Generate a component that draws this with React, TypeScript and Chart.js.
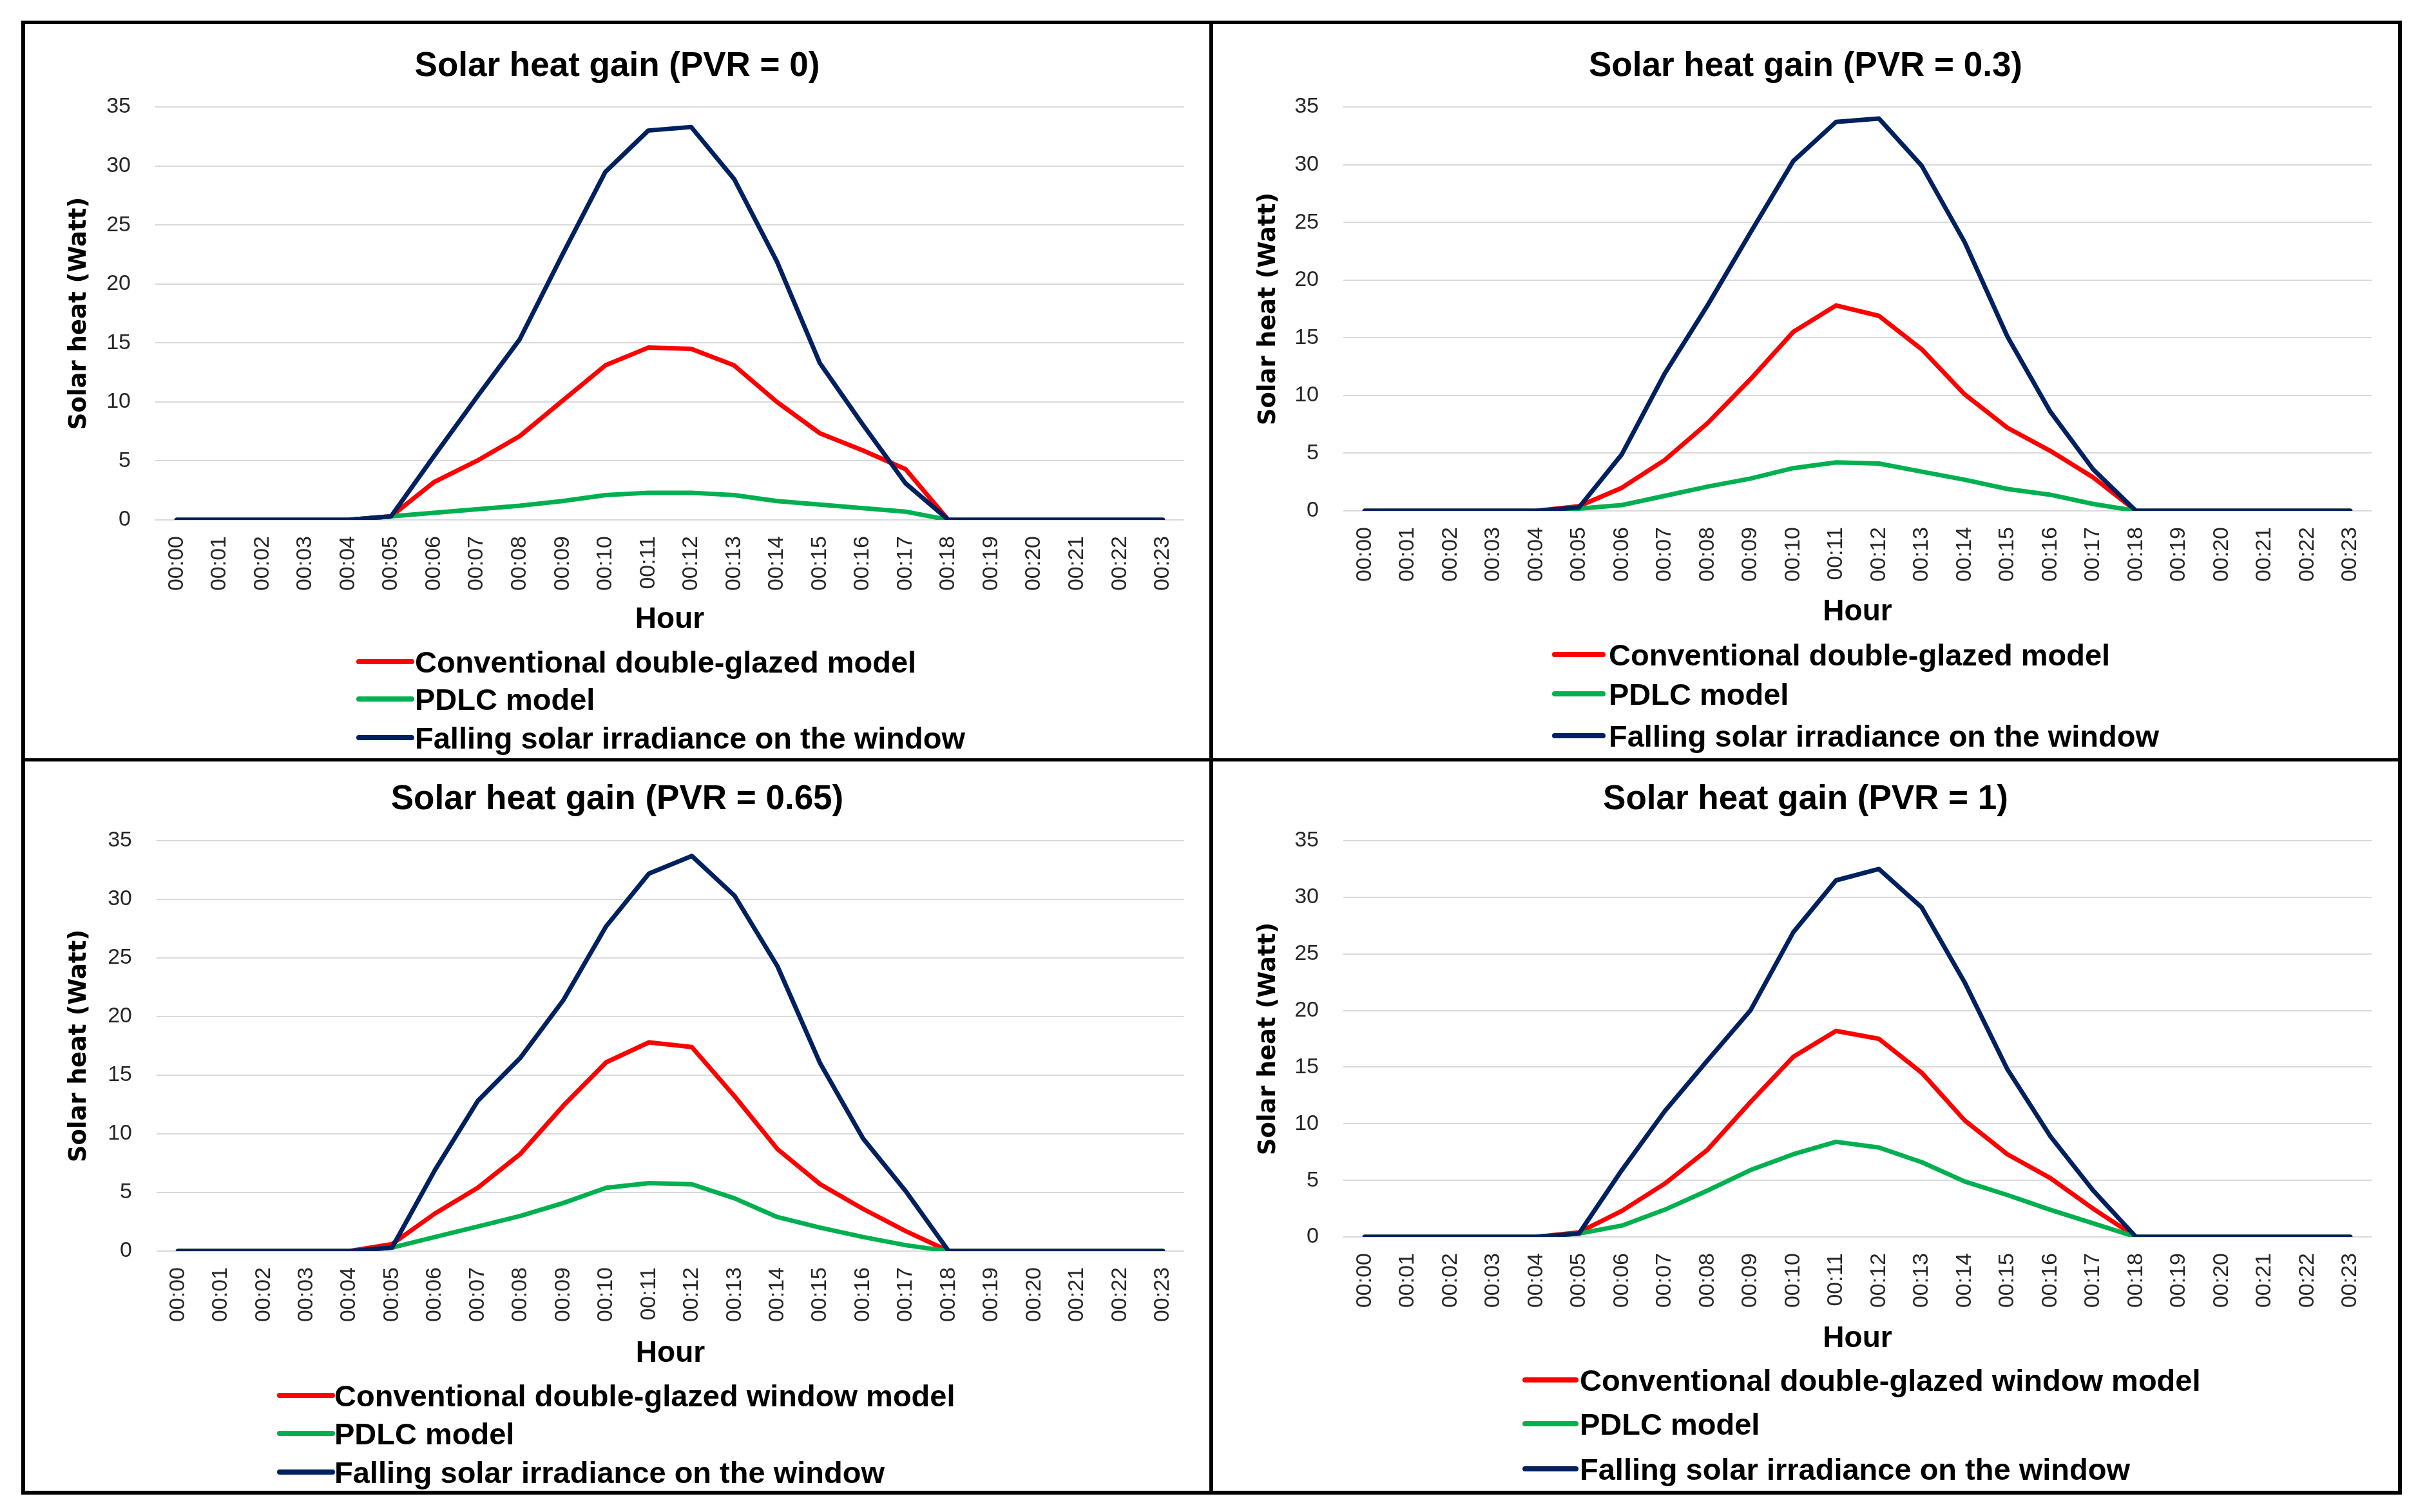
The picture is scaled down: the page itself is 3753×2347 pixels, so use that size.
import React, { useEffect, useRef } from 'react';
import { Chart, registerables } from 'chart.js';

Chart.register(...registerables);

// ---------- data ----------
const hours = [
  '00:00', '00:01', '00:02', '00:03', '00:04', '00:05', '00:06', '00:07',
  '00:08', '00:09', '00:10', '00:11', '00:12', '00:13', '00:14', '00:15',
  '00:16', '00:17', '00:18', '00:19', '00:20', '00:21', '00:22', '00:23',
];

const conv0 = [0, 0, 0, 0, 0, 0.3, 3.2, 5.0, 7.1, 10.1, 13.1, 14.6, 14.5, 13.1, 10.0, 7.35, 5.9, 4.3, 0, 0, 0, 0, 0, 0];
const pdlc0 = [0, 0, 0, 0, 0, 0.3, 0.6, 0.9, 1.2, 1.6, 2.1, 2.3, 2.3, 2.1, 1.6, 1.3, 1.0, 0.7, 0, 0, 0, 0, 0, 0];
const solar0 = [0, 0, 0, 0, 0, 0.3, 5.4, 10.4, 15.3, 22.5, 29.5, 33.0, 33.3, 28.9, 21.9, 13.3, 8.1, 3.1, 0, 0, 0, 0, 0, 0];

const conv03 = [0, 0, 0, 0, 0, 0.4, 2.0, 4.4, 7.6, 11.4, 15.5, 17.8, 16.9, 14.0, 10.1, 7.2, 5.2, 2.9, 0, 0, 0, 0, 0, 0];
const pdlc03 = [0, 0, 0, 0, 0, 0.2, 0.5, 1.3, 2.1, 2.8, 3.7, 4.2, 4.1, 3.4, 2.7, 1.9, 1.4, 0.6, 0, 0, 0, 0, 0, 0];
const solar03 = [0, 0, 0, 0, 0, 0.3, 4.9, 11.9, 17.8, 24.1, 30.3, 33.7, 34.0, 29.9, 23.3, 15.1, 8.6, 3.6, 0, 0, 0, 0, 0, 0];

const conv065 = [0, 0, 0, 0, 0, 0.6, 3.2, 5.4, 8.3, 12.4, 16.1, 17.8, 17.4, 13.2, 8.7, 5.7, 3.6, 1.7, 0, 0, 0, 0, 0, 0];
const pdlc065 = [0, 0, 0, 0, 0, 0.3, 1.2, 2.1, 3.0, 4.1, 5.4, 5.8, 5.7, 4.5, 2.9, 2.0, 1.2, 0.5, 0, 0, 0, 0, 0, 0];
const solar065 = [0, 0, 0, 0, 0, 0.3, 6.9, 12.8, 16.5, 21.4, 27.7, 32.2, 33.7, 30.3, 24.3, 16.0, 9.6, 5.1, 0, 0, 0, 0, 0, 0];

const conv1 = [0, 0, 0, 0, 0, 0.4, 2.3, 4.7, 7.7, 11.9, 15.9, 18.2, 17.5, 14.5, 10.3, 7.3, 5.2, 2.5, 0, 0, 0, 0, 0, 0];
const pdlc1 = [0, 0, 0, 0, 0, 0.3, 1.0, 2.4, 4.1, 5.9, 7.3, 8.4, 7.9, 6.6, 4.9, 3.7, 2.4, 1.2, 0, 0, 0, 0, 0, 0];
const solar1 = [0, 0, 0, 0, 0, 0.3, 5.9, 11.1, 15.6, 20.0, 26.9, 31.5, 32.5, 29.1, 22.5, 14.8, 8.9, 4.1, 0, 0, 0, 0, 0, 0];

const titles = [
  'Solar heat gain (PVR = 0)',
  'Solar heat gain (PVR = 0.3)',
  'Solar heat gain (PVR = 0.65)',
  'Solar heat gain (PVR = 1)',
];
const labelsShort = ['Conventional double-glazed model', 'PDLC model', 'Falling solar irradiance on the window'];
const labelsLong = ['Conventional double-glazed window model', 'PDLC model', 'Falling solar irradiance on the window'];
const yTicksMax = 35;
const yTickStep = 5;
const xTitle = 'Hour';
const yTitle = 'Solar heat (Watt)';

// ---------- styles / layout ----------
const colors = ['#FF0000', '#00B050', '#002060'];
const FONT = '"Liberation Sans", Arial, sans-serif';

type Layout = {
  W: number; H: number;
  plotTop: number; plotBottom: number; plotLeft: number; plotRight: number;
  hourY: number; titleBase: number; legendY: number[];
  lineX: [number, number]; textX: number; yTitleX: number;
};

const layouts: Layout[] = [
  { W: 1838, H: 1140, plotTop: 129, plotBottom: 770, plotLeft: 202, plotRight: 1799, hourY: 925, titleBase: 81, legendY: [990, 1048, 1108], lineX: [518, 600], textX: 605, yTitleX: 84 },
  { W: 1839, H: 1140, plotTop: 129, plotBottom: 756, plotLeft: 202, plotRight: 1798, hourY: 913, titleBase: 81, legendY: [979, 1040, 1105], lineX: [530, 605], textX: 614, yTitleX: 86 },
  { W: 1838, H: 1132, plotTop: 123, plotBottom: 760, plotLeft: 204, plotRight: 1799, hourY: 919, titleBase: 74, legendY: [984, 1043, 1103], lineX: [395, 477], textX: 480, yTitleX: 84 },
  { W: 1839, H: 1132, plotTop: 123, plotBottom: 738, plotLeft: 202, plotRight: 1798, hourY: 896, titleBase: 74, legendY: [960, 1028, 1098], lineX: [484, 563], textX: 569, yTitleX: 86 },
];

const panelSeries = [
  [conv0, pdlc0, solar0],
  [conv03, pdlc03, solar03],
  [conv065, pdlc065, solar065],
  [conv1, pdlc1, solar1],
];
const panelLabels = [labelsShort, labelsShort, labelsLong, labelsLong];

function PanelChart({ idx }: { idx: number }) {
  const ref = useRef<HTMLCanvasElement | null>(null);
  const L = layouts[idx];

  useEffect(() => {
    const canvas = ref.current;
    if (!canvas) return;
    const hourSize = 46;
    const hourLH = hourSize * 1.2;
    const axisBottom = L.hourY + hourLH / 2;
    const yTitleSize = 37;
    const yTitleLH = yTitleSize * 1.2;

    const overlay = {
      id: 'overlay',
      afterDraw(chart: any) {
        const ctx = chart.ctx as CanvasRenderingContext2D;
        ctx.save();
        ctx.fillStyle = '#000';
        ctx.textBaseline = 'alphabetic';
        ctx.textAlign = 'center';
        ctx.font = `bold 53px ${FONT}`;
        ctx.fillText(titles[idx], chart.width / 2, L.titleBase);

        const legendSize = 47;
        chart.data.datasets.forEach((ds: any, i: number) => {
          const y = L.legendY[i];
          ctx.strokeStyle = ds.borderColor;
          ctx.lineWidth = 8;
          ctx.lineCap = 'round';
          ctx.beginPath();
          ctx.moveTo(L.lineX[0], y);
          ctx.lineTo(L.lineX[1], y);
          ctx.stroke();
          ctx.fillStyle = '#000';
          ctx.textAlign = 'left';
          ctx.font = `bold ${legendSize}px ${FONT}`;
          ctx.fillText(ds.label, L.textX, y + legendSize * 0.716 / 2);
        });
        ctx.restore();
      },
    };

    const series = panelSeries[idx];
    const labels = panelLabels[idx];
    const orders = [3, 2, 1];

    const chart = new Chart(canvas, {
      type: 'line',
      data: {
        labels: hours,
        datasets: series.map((d, i) => ({
          label: labels[i],
          data: d,
          borderColor: colors[i],
          backgroundColor: colors[i],
          borderWidth: 7,
          pointRadius: 0,
          pointHoverRadius: 0,
          tension: 0,
          fill: false,
          borderJoinStyle: 'round' as const,
          borderCapStyle: 'round' as const,
          order: orders[i],
        })),
      },
      options: {
        animation: false,
        responsive: false,
        devicePixelRatio: 1,
        events: [],
        layout: {
          padding: {
            top: L.plotTop,
            left: 0,
            right: L.W - L.plotRight,
            bottom: L.H - axisBottom,
          },
        },
        plugins: {
          legend: { display: false },
          title: { display: false },
          tooltip: { enabled: false },
        },
        scales: {
          x: {
            type: 'category',
            offset: true,
            grid: { display: false, drawTicks: false },
            border: { display: false },
            ticks: {
              autoSkip: false,
              minRotation: 90,
              maxRotation: 90,
              padding: 25,
              color: '#262626',
              font: { family: FONT, size: 34 },
            },
            title: {
              display: true,
              text: xTitle,
              color: '#000',
              padding: { top: 0, bottom: 0 },
              font: { family: FONT, size: hourSize, weight: 'bold', lineHeight: 1.2 },
            },
            afterFit: (scale: any) => {
              scale.height = axisBottom - L.plotBottom;
            },
          },
          y: {
            min: 0,
            max: yTicksMax,
            ticks: {
              stepSize: yTickStep,
              padding: 38,
              color: '#262626',
              font: { family: FONT, size: 34 },
            },
            grid: { color: '#D9D9D9', lineWidth: 2, drawTicks: false },
            border: { display: false },
            title: {
              display: true,
              text: yTitle,
              color: '#000',
              padding: { top: L.yTitleX - yTitleLH / 2, bottom: 0 },
              font: { family: '"DejaVu Sans", Verdana, sans-serif', size: yTitleSize, weight: 'bold', lineHeight: 1.2 },
            },
            afterFit: (scale: any) => {
              scale.width = L.plotLeft;
            },
          },
        },
      },
      plugins: [overlay],
    });
    return () => chart.destroy();
  }, [idx]);

  return (
    <div style={{ background: '#fff', width: L.W, height: L.H, overflow: 'hidden' }}>
      <canvas ref={ref} width={L.W} height={L.H} style={{ display: 'block', width: L.W, height: L.H }} />
    </div>
  );
}

export default function App() {
  return (
    <div
      style={{
        position: 'absolute',
        left: 33,
        top: 32,
        width: 3695,
        height: 2288,
        boxSizing: 'border-box',
        background: '#000',
        padding: '5px 6px 6px 6px',
        display: 'grid',
        gridTemplateColumns: '1838px 1839px',
        gridTemplateRows: '1140px 1132px',
        columnGap: 6,
        rowGap: 5,
      }}
    >
      {[0, 1, 2, 3].map((i) => (
        <PanelChart key={i} idx={i} />
      ))}
    </div>
  );
}
